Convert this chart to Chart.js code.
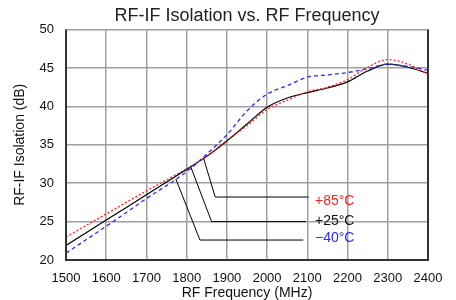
<!DOCTYPE html>
<html>
<head>
<meta charset="utf-8">
<script src="https://cdn.jsdelivr.net/npm/chart.js@4/dist/chart.umd.min.js"></script>
<style>
  html, body { margin: 0; padding: 0; background: #fff; }
  #wrap { width: 456px; height: 300px; }
</style>
</head>
<body>
<div id="wrap"><canvas id="c" width="456" height="300"></canvas></div>
<script>
// ---- data ----
const freqs   = [1500, 1600, 1700, 1800, 1850, 1900, 1950, 2000, 2050, 2100, 2150, 2200, 2250, 2300, 2350, 2400];
const iso85   = [23.0, 26.0, 29.0, 31.9, 33.5, 35.6, 37.5, 39.6, 40.8, 41.9, 42.5, 43.5, 45.1, 46.1, 45.5, 44.2];
const iso25   = [21.9, 25.2, 28.5, 31.8, 33.5, 35.5, 37.7, 39.9, 41.1, 41.8, 42.4, 43.2, 44.6, 45.5, 45.1, 44.3];
const isoM40  = [20.9, 24.4, 28.0, 31.5, 33.8, 36.3, 39.4, 41.6, 42.7, 43.8, 44.1, 44.4, 44.9, 45.5, 45.2, 44.7];
const seriesNames = ['+85°C', '+25°C', '\u221240°C'];
const xTicks = [1500, 1600, 1700, 1800, 1900, 2000, 2100, 2200, 2300, 2400];
const yTicks = [20, 25, 30, 35, 40, 45, 50];
const titleText = 'RF-IF Isolation vs. RF Frequency';
const xTitle = 'RF Frequency (MHz)';
const yTitle = 'RF-IF Isolation (dB)';

const toPts = arr => freqs.map((f, i) => ({ x: f, y: arr[i] }));
const seriesData = [iso85, iso25, isoM40];
const colors = ['#ff2020', '#000000', '#2a2aff'];

function interp(arr, f) {
  for (let i = 0; i < freqs.length - 1; i++) {
    if (f >= freqs[i] && f <= freqs[i + 1]) {
      const t = (f - freqs[i]) / (freqs[i + 1] - freqs[i]);
      return arr[i] + t * (arr[i + 1] - arr[i]);
    }
  }
  return arr[arr.length - 1];
}

// leader-line annotations (in data units)
const leaders = [
  { s: 0, anchorF: 1842, elbow: [1871, 28.2], endF: 2103, labelY: 27.7 },
  { s: 1, anchorF: 1810, elbow: [1862, 25.0], endF: 2097, labelY: 25.1 },
  { s: 2, anchorF: 1773, elbow: [1833, 22.6], endF: 2090, labelY: 22.9 }
];

const annotPlugin = {
  id: 'annot',
  afterDatasetsDraw(chart) {
    const { ctx, scales: { x, y }, chartArea: ca } = chart;
    ctx.save();
    leaders.forEach(l => {
      const ay = interp(seriesData[l.s], l.anchorF);
      ctx.beginPath();
      ctx.strokeStyle = '#000';
      ctx.lineWidth = 1;
      ctx.moveTo(x.getPixelForValue(l.anchorF), y.getPixelForValue(ay));
      ctx.lineTo(x.getPixelForValue(l.elbow[0]), y.getPixelForValue(l.elbow[1]));
      ctx.lineTo(x.getPixelForValue(l.endF), y.getPixelForValue(l.elbow[1]));
      ctx.stroke();
      ctx.fillStyle = colors[l.s] === '#000000' ? '#111' : colors[l.s];
      ctx.font = '14px "Liberation Sans", Arial, sans-serif';
      ctx.textBaseline = 'middle';
      ctx.textAlign = 'left';
      ctx.fillText(seriesNames[l.s], x.getPixelForValue(2119), y.getPixelForValue(l.labelY));
    });
    // frame: left, right, bottom dark
    ctx.beginPath();
    ctx.strokeStyle = '#333';
    ctx.lineWidth = 2;
    ctx.moveTo(ca.left, ca.top);
    ctx.lineTo(ca.left, ca.bottom);
    ctx.lineTo(ca.right, ca.bottom);
    ctx.lineTo(ca.right, ca.top);
    ctx.stroke();
    ctx.restore();
  }
};

const font = '"Liberation Sans", Arial, sans-serif';

new Chart(document.getElementById('c'), {
  type: 'line',
  data: {
    datasets: [
      { label: seriesNames[0], data: toPts(iso85), borderColor: colors[0], borderWidth: 1.3, borderDash: [2, 2], pointRadius: 0, cubicInterpolationMode: 'monotone', fill: false },
      { label: seriesNames[2], data: toPts(isoM40), borderColor: colors[2], borderWidth: 1.3, borderDash: [4, 3], pointRadius: 0, cubicInterpolationMode: 'monotone', fill: false },
      { label: seriesNames[1], data: toPts(iso25), borderColor: colors[1], borderWidth: 1.2, pointRadius: 0, cubicInterpolationMode: 'monotone', fill: false }
    ]
  },
  options: {
    responsive: false,
    animation: false,
    layout: { padding: { left: 0, right: 28, top: 0, bottom: 0 } },
    plugins: {
      legend: { display: false },
      tooltip: { enabled: false },
      title: {
        display: true, text: titleText, fullSize: false,
        color: '#222', font: { family: font, size: 18, weight: 'normal' },
        padding: { top: 5, bottom: 3 }
      }
    },
    scales: {
      x: {
        type: 'linear', min: xTicks[0], max: xTicks[xTicks.length - 1],
        afterBuildTicks: s => { s.ticks = xTicks.map(v => ({ value: v })); },
        ticks: { color: '#111', font: { family: font, size: 13 }, padding: 11, maxRotation: 0, autoSkip: false, callback: v => String(v) },
        grid: { color: '#a0a0a0', lineWidth: 1.5, drawTicks: false },
        border: { display: false },
        title: { display: true, text: xTitle, color: '#111', font: { family: font, size: 14, lineHeight: 1 }, padding: { top: 0, bottom: 0 } },
        afterFit: s => { s.height = 40; }
      },
      y: {
        type: 'linear', min: yTicks[0], max: yTicks[yTicks.length - 1],
        afterBuildTicks: s => { s.ticks = yTicks.map(v => ({ value: v })); },
        ticks: { color: '#111', font: { family: font, size: 13 }, padding: 12, callback: v => String(v) },
        grid: { color: '#a0a0a0', lineWidth: 1.5, drawTicks: false },
        border: { display: false },
        title: { display: true, text: yTitle, color: '#111', font: { family: font, size: 14 }, padding: { top: 12, bottom: 8 } },
        afterFit: s => { s.width = 66; }
      }
    }
  },
  plugins: [annotPlugin]
});
</script>
</body>
</html>
